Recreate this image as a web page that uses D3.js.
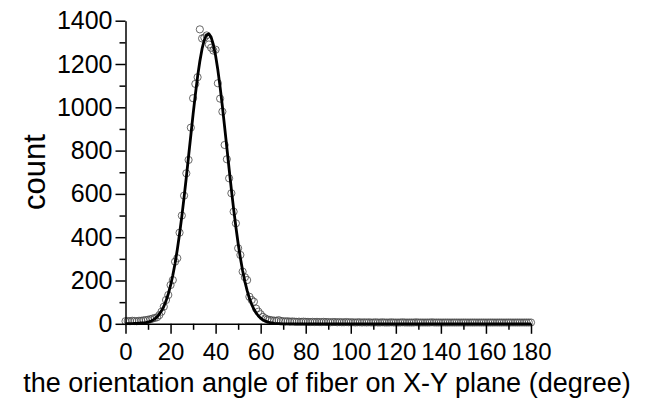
<!DOCTYPE html>
<html>
<head>
<meta charset="utf-8">
<script src="https://cdn.jsdelivr.net/npm/d3@7/dist/d3.min.js"></script>
<style>
  html, body { margin: 0; padding: 0; background: #fff; }
  svg { display: block; }
  text { font-family: "Liberation Sans", Arial, sans-serif; fill: #000; }
</style>
</head>
<body>
<svg id="chart" width="646" height="407"></svg>
<script>
// Histogram of fiber orientation angles (1° bins) and its fitted peak.
const angles = d3.range(0, 181); // bin centres, degrees

const counts = [
  12, 13, 12, 14, 13, 12, 14, 14, 16, 17,
  19, 21, 24, 27, 30, 40, 56, 79, 110, 133,
  179, 202, 287, 303, 421, 500, 592, 695, 757, 906,
  1042, 1108, 1139, 1360, 1318, 1322, 1332, 1290, 1275, 1262,
  1266, 1111, 1040, 980, 826, 760, 672, 603, 518, 464,
  349, 318, 241, 215, 202, 125, 110, 102, 70, 56,
  44, 32, 25, 20, 18, 16, 15, 14, 17, 13,
  12, 11, 12, 10, 11, 10, 9, 10, 9, 10,
  9, 9, 8, 9, 8, 9, 8, 8, 9, 8,
  8, 7, 8, 8, 7, 8, 7, 7, 8, 7,
  7, 7, 6, 7, 7, 6, 7, 6, 7, 6,
  6, 7, 6, 6, 7, 6, 6, 6, 7, 6,
  6, 6, 6, 7, 6, 6, 6, 6, 6, 7,
  6, 6, 6, 6, 6, 6, 7, 6, 6, 6,
  6, 6, 6, 6, 6, 6, 6, 6, 6, 6,
  6, 6, 6, 6, 6, 6, 6, 6, 6, 6,
  6, 6, 6, 6, 6, 6, 6, 6, 6, 6,
  6, 6, 6, 6, 6, 6, 6, 6, 6, 6,
  6
];

// Fitted curve, sampled at the same bin centres (zero beyond 69°)
const fitted = [
  1, 1, 1, 1, 2, 2, 3, 4, 4, 5,
  8, 11, 16, 23, 32, 44, 60, 80, 106, 138,
  177, 224, 279, 343, 416, 496, 584, 677, 774, 871,
  967, 1058, 1142, 1213, 1271, 1312, 1335, 1339, 1324, 1289,
  1238, 1172, 1093, 1005, 910, 813, 715, 620, 530, 447,
  371, 304, 245, 195, 153, 118, 90, 67, 50, 36,
  26, 18, 13, 9, 6, 4, 2, 1, 1, 0
];
const fittedFull = angles.map((a, i) => i < fitted.length ? fitted[i] : 0);

const xTicks = d3.range(0, 181, 10);
const yTicks = d3.range(0, 1401, 100);

const svg = d3.select("#chart");

const x = d3.scaleLinear().domain([0, 180]).range([125.5, 531]);
const y = d3.scaleLinear().domain([0, 1400]).range([323.8, 20.7]);

// Data markers: open circles
svg.append("g")
  .selectAll("circle")
  .data(angles)
  .join("circle")
  .attr("cx", d => x(d))
  .attr("cy", (d, i) => y(counts[i]))
  .attr("r", 3.6)
  .attr("fill", "none")
  .attr("stroke", "#444")
  .attr("stroke-width", 0.8);

// Fit line
const line = d3.line()
  .x(d => x(d[0]))
  .y(d => y(d[1]));

svg.append("path")
  .datum(angles.map((a, i) => [a, fittedFull[i]]))
  .attr("d", line)
  .attr("fill", "none")
  .attr("stroke", "#000")
  .attr("stroke-width", 2.8)
  .attr("stroke-linejoin", "round");

// Axes
const xAxis = d3.axisBottom(x)
  .tickValues(xTicks)
  .tickSizeOuter(0)
  .tickSizeInner(10)
  .tickPadding(9)
  .tickFormat(d => d % 20 === 0 ? d : "");

const yAxis = d3.axisLeft(y)
  .tickValues(yTicks)
  .tickSizeOuter(0)
  .tickSizeInner(10)
  .tickPadding(3)
  .tickFormat(d => d % 200 === 0 ? d : "");

const gx = svg.append("g")
  .attr("transform", `translate(0,${y(0)})`)
  .call(xAxis);
const gy = svg.append("g")
  .attr("transform", `translate(${x(0)},0)`)
  .call(yAxis);

[gx, gy].forEach(g => {
  g.select(".domain").attr("stroke", "#000").attr("stroke-width", 1.5);
  g.selectAll(".tick line").attr("stroke", "#000").attr("stroke-width", 1.5);
  g.selectAll(".tick text")
    .attr("font-family", "'Liberation Sans', Arial, sans-serif")
    .attr("fill", "#000");
});
gx.selectAll(".tick text").attr("font-size", 24);
gy.selectAll(".tick text").attr("font-size", 25);
gx.selectAll(".tick line").attr("y2", d => d % 20 === 0 ? 10 : 6);
gy.selectAll(".tick line").attr("x2", d => d % 200 === 0 ? -10 : -6);

// Axis titles
svg.append("text")
  .attr("x", 327)
  .attr("y", 392)
  .attr("text-anchor", "middle")
  .attr("font-size", 27)
  .text("the orientation angle of fiber on X-Y plane (degree)");

svg.append("text")
  .attr("transform", `translate(45,172) rotate(-90)`)
  .attr("text-anchor", "middle")
  .attr("font-size", 31)
  .text("count");
</script>
</body>
</html>
